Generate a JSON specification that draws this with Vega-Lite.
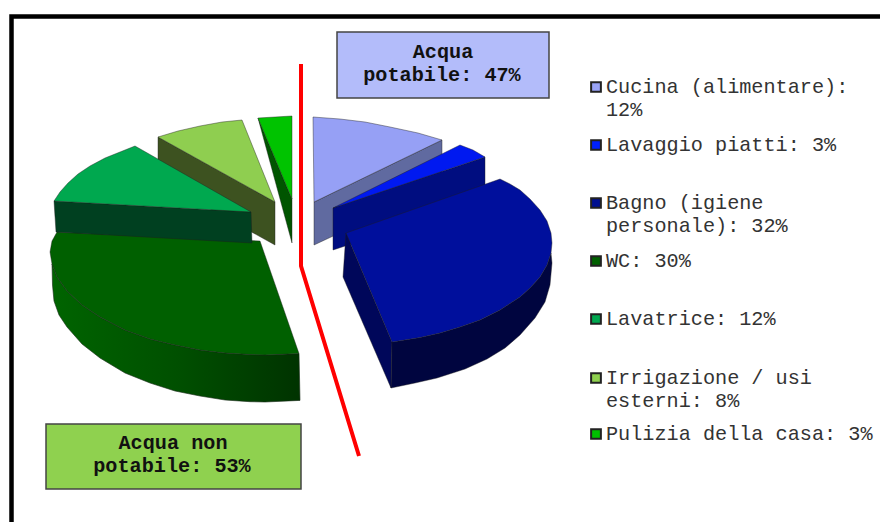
{"$schema":"https://vega.github.io/schema/vega-lite/v6.json","width":880,"height":522,"padding":0,"autosize":{"type":"none"},"background":"white","view":{"stroke":null},
"datasets":{
"frame":[{"s":"frame","i":0,"x":11.5,"y":522},{"s":"frame","i":1,"x":11.5,"y":16.5},{"s":"frame","i":2,"x":880,"y":16.5},{"s":"red","i":0,"x":301,"y":64},{"s":"red","i":1,"x":301,"y":266},{"s":"red","i":2,"x":359,"y":456}],
"wcside":[{"p":"WC side","i":0,"x":299,"y":353.6},{"p":"WC side","i":1,"x":265,"y":355},{"p":"WC side","i":2,"x":250,"y":354.5},{"p":"WC side","i":3,"x":225,"y":353},{"p":"WC side","i":4,"x":200,"y":350},{"p":"WC side","i":5,"x":175,"y":345},{"p":"WC side","i":6,"x":150,"y":339},{"p":"WC side","i":7,"x":125,"y":330},{"p":"WC side","i":8,"x":100,"y":317},{"p":"WC side","i":9,"x":82,"y":305},{"p":"WC side","i":10,"x":67,"y":291},{"p":"WC side","i":11,"x":57,"y":277},{"p":"WC side","i":12,"x":52,"y":264},{"p":"WC side","i":13,"x":52.5,"y":285},{"p":"WC side","i":14,"x":54,"y":301},{"p":"WC side","i":15,"x":59,"y":315},{"p":"WC side","i":16,"x":67,"y":327},{"p":"WC side","i":17,"x":82,"y":344},{"p":"WC side","i":18,"x":100,"y":358},{"p":"WC side","i":19,"x":125,"y":373},{"p":"WC side","i":20,"x":150,"y":383},{"p":"WC side","i":21,"x":175,"y":391},{"p":"WC side","i":22,"x":200,"y":396},{"p":"WC side","i":23,"x":225,"y":400},{"p":"WC side","i":24,"x":250,"y":401.7},{"p":"WC side","i":25,"x":265,"y":402},{"p":"WC side","i":26,"x":300,"y":400.4},{"p":"WC side","i":27,"x":299,"y":353.6}],
"poly":[
{"p":"WC top","i":0,"x":57,"y":232},{"p":"WC top","i":1,"x":260,"y":241},{"p":"WC top","i":2,"x":299,"y":353.6},{"p":"WC top","i":3,"x":265,"y":355},{"p":"WC top","i":4,"x":250,"y":354.5},{"p":"WC top","i":5,"x":225,"y":353},{"p":"WC top","i":6,"x":200,"y":350},{"p":"WC top","i":7,"x":175,"y":345},{"p":"WC top","i":8,"x":150,"y":339},{"p":"WC top","i":9,"x":125,"y":330},{"p":"WC top","i":10,"x":100,"y":317},{"p":"WC top","i":11,"x":82,"y":305},{"p":"WC top","i":12,"x":67,"y":291},{"p":"WC top","i":13,"x":57,"y":277},{"p":"WC top","i":14,"x":52,"y":264},{"p":"WC top","i":15,"x":50,"y":252},{"p":"WC top","i":16,"x":52,"y":241},{"p":"WC top","i":17,"x":57,"y":232},
{"p":"Pulizia side","i":0,"x":258,"y":118},{"p":"Pulizia side","i":1,"x":292,"y":199},{"p":"Pulizia side","i":2,"x":292,"y":243},{"p":"Pulizia side","i":3,"x":258,"y":118},
{"p":"Pulizia top","i":0,"x":258,"y":118},{"p":"Pulizia top","i":1,"x":275,"y":117},{"p":"Pulizia top","i":2,"x":292,"y":116},{"p":"Pulizia top","i":3,"x":292,"y":199},{"p":"Pulizia top","i":4,"x":258,"y":118},
{"p":"Irrigazione side","i":0,"x":158,"y":137},{"p":"Irrigazione side","i":1,"x":275,"y":202},{"p":"Irrigazione side","i":2,"x":275,"y":245},{"p":"Irrigazione side","i":3,"x":158,"y":180},{"p":"Irrigazione side","i":4,"x":158,"y":137},
{"p":"Irrigazione top","i":0,"x":158,"y":137},{"p":"Irrigazione top","i":1,"x":178,"y":131},{"p":"Irrigazione top","i":2,"x":200,"y":126},{"p":"Irrigazione top","i":3,"x":222,"y":122},{"p":"Irrigazione top","i":4,"x":242,"y":120},{"p":"Irrigazione top","i":5,"x":275,"y":202},{"p":"Irrigazione top","i":6,"x":158,"y":137},
{"p":"Lavatrice side","i":0,"x":54,"y":201},{"p":"Lavatrice side","i":1,"x":251,"y":212},{"p":"Lavatrice side","i":2,"x":252,"y":243},{"p":"Lavatrice side","i":3,"x":56,"y":232},{"p":"Lavatrice side","i":4,"x":54,"y":201},
{"p":"Lavatrice top","i":0,"x":54,"y":201},{"p":"Lavatrice top","i":1,"x":60,"y":192},{"p":"Lavatrice top","i":2,"x":68,"y":183},{"p":"Lavatrice top","i":3,"x":78,"y":174},{"p":"Lavatrice top","i":4,"x":90,"y":166},{"p":"Lavatrice top","i":5,"x":105,"y":158},{"p":"Lavatrice top","i":6,"x":120,"y":152},{"p":"Lavatrice top","i":7,"x":135,"y":146},{"p":"Lavatrice top","i":8,"x":251,"y":212},{"p":"Lavatrice top","i":9,"x":54,"y":201},
{"p":"Cucina side","i":0,"x":442,"y":140},{"p":"Cucina side","i":1,"x":314,"y":202},{"p":"Cucina side","i":2,"x":314,"y":245},{"p":"Cucina side","i":3,"x":442,"y":185},{"p":"Cucina side","i":4,"x":442,"y":140},
{"p":"Cucina top","i":0,"x":313,"y":117},{"p":"Cucina top","i":1,"x":340,"y":119},{"p":"Cucina top","i":2,"x":365,"y":122},{"p":"Cucina top","i":3,"x":390,"y":127},{"p":"Cucina top","i":4,"x":418,"y":133},{"p":"Cucina top","i":5,"x":442,"y":140},{"p":"Cucina top","i":6,"x":314,"y":202},{"p":"Cucina top","i":7,"x":313,"y":117},
{"p":"Lavaggio side","i":0,"x":333,"y":208},{"p":"Lavaggio side","i":1,"x":485,"y":157},{"p":"Lavaggio side","i":2,"x":485,"y":200},{"p":"Lavaggio side","i":3,"x":333,"y":250},{"p":"Lavaggio side","i":4,"x":333,"y":208},
{"p":"Lavaggio top","i":0,"x":460,"y":145},{"p":"Lavaggio top","i":1,"x":473,"y":150},{"p":"Lavaggio top","i":2,"x":485,"y":157},{"p":"Lavaggio top","i":3,"x":333,"y":208},{"p":"Lavaggio top","i":4,"x":460,"y":145},
{"p":"Bagno left","i":0,"x":346,"y":233},{"p":"Bagno left","i":1,"x":392,"y":342},{"p":"Bagno left","i":2,"x":391,"y":388},{"p":"Bagno left","i":3,"x":343,"y":277},{"p":"Bagno left","i":4,"x":346,"y":233},
{"p":"Bagno outer","i":0,"x":392,"y":342},{"p":"Bagno outer","i":1,"x":420,"y":337.5},{"p":"Bagno outer","i":2,"x":440,"y":333},{"p":"Bagno outer","i":3,"x":460,"y":327},{"p":"Bagno outer","i":4,"x":480,"y":320},{"p":"Bagno outer","i":5,"x":500,"y":310},{"p":"Bagno outer","i":6,"x":520,"y":297},{"p":"Bagno outer","i":7,"x":530,"y":288},{"p":"Bagno outer","i":8,"x":540,"y":277},{"p":"Bagno outer","i":9,"x":547,"y":265},{"p":"Bagno outer","i":10,"x":551,"y":253},{"p":"Bagno outer","i":11,"x":552,"y":263},{"p":"Bagno outer","i":12,"x":550,"y":285},{"p":"Bagno outer","i":13,"x":545,"y":302},{"p":"Bagno outer","i":14,"x":535,"y":318},{"p":"Bagno outer","i":15,"x":520,"y":335},{"p":"Bagno outer","i":16,"x":505,"y":348},{"p":"Bagno outer","i":17,"x":487,"y":359},{"p":"Bagno outer","i":18,"x":465,"y":369},{"p":"Bagno outer","i":19,"x":437,"y":378},{"p":"Bagno outer","i":20,"x":415,"y":383},{"p":"Bagno outer","i":21,"x":391,"y":388},{"p":"Bagno outer","i":22,"x":392,"y":342},
{"p":"Bagno top","i":0,"x":346,"y":233},{"p":"Bagno top","i":1,"x":500,"y":179},{"p":"Bagno top","i":2,"x":510,"y":184},{"p":"Bagno top","i":3,"x":520,"y":190},{"p":"Bagno top","i":4,"x":530,"y":199},{"p":"Bagno top","i":5,"x":540,"y":210},{"p":"Bagno top","i":6,"x":547,"y":221},{"p":"Bagno top","i":7,"x":551,"y":233},{"p":"Bagno top","i":8,"x":552,"y":243},{"p":"Bagno top","i":9,"x":551,"y":253},{"p":"Bagno top","i":10,"x":547,"y":265},{"p":"Bagno top","i":11,"x":540,"y":277},{"p":"Bagno top","i":12,"x":530,"y":288},{"p":"Bagno top","i":13,"x":520,"y":297},{"p":"Bagno top","i":14,"x":500,"y":310},{"p":"Bagno top","i":15,"x":480,"y":320},{"p":"Bagno top","i":16,"x":460,"y":327},{"p":"Bagno top","i":17,"x":440,"y":333},{"p":"Bagno top","i":18,"x":420,"y":337.5},{"p":"Bagno top","i":19,"x":392,"y":342},{"p":"Bagno top","i":20,"x":346,"y":233}
],
"boxes":[{"k":"Acqua potabile","x":337,"x2":549,"y":32,"y2":98},{"k":"Acqua non potabile","x":46,"x2":301,"y":424,"y2":489}],
"legend":[{"k":"Cucina (alimentare): 12%","v":12,"x":596,"y":87},{"k":"Lavaggio piatti: 3%","v":3,"x":596,"y":145},{"k":"Bagno (igiene personale): 32%","v":32,"x":596,"y":203},{"k":"WC: 30%","v":30,"x":596,"y":261},{"k":"Lavatrice: 12%","v":12,"x":596,"y":319},{"k":"Irrigazione / usi esterni: 8%","v":8,"x":596,"y":378},{"k":"Pulizia della casa: 3%","v":3,"x":596,"y":434}],
"labels":[{"t":"Cucina (alimentare):","x":606,"y":87},{"t":"12%","x":606,"y":110},{"t":"Lavaggio piatti: 3%","x":606,"y":145},{"t":"Bagno (igiene","x":606,"y":203},{"t":"personale): 32%","x":606,"y":226},{"t":"WC: 30%","x":606,"y":261},{"t":"Lavatrice: 12%","x":606,"y":319},{"t":"Irrigazione / usi","x":606,"y":378},{"t":"esterni: 8%","x":606,"y":401},{"t":"Pulizia della casa: 3%","x":606,"y":434}],
"titles":[{"t":"Acqua","x":443,"y":52},{"t":"potabile: 47%","x":442,"y":75},{"t":"Acqua non","x":173,"y":443},{"t":"potabile: 53%","x":172,"y":466}]
},
"encoding":{"x":{"field":"x","type":"quantitative","axis":null,"scale":{"domain":[0,880],"nice":false,"zero":false}},"y":{"field":"y","type":"quantitative","axis":null,"scale":{"domain":[522,0],"nice":false,"zero":false}}},
"layer":[
{"data":{"name":"frame"},"transform":[{"filter":"datum.s==='frame'"}],"mark":{"type":"line","stroke":"#000000","strokeWidth":4.5,"strokeJoin":"miter","strokeCap":"square"},"encoding":{"order":{"field":"i"}}},
{"data":{"name":"wcside"},"mark":{"type":"line","filled":true,"stroke":"#1a2a1a","strokeWidth":0.6,"color":{"gradient":"linear","x1":0,"x2":1,"y1":0,"y2":0,"stops":[{"offset":0,"color":"#006400"},{"offset":0.5,"color":"#005000"},{"offset":1,"color":"#003300"}]}},"encoding":{"order":{"field":"i"},"detail":{"field":"p"}}},
{"data":{"name":"poly"},"mark":{"type":"line","filled":true,"stroke":"#1c1c1c","strokeOpacity":0.7,"strokeWidth":0.6},"encoding":{"order":{"field":"i"},"color":{"field":"p","type":"nominal","legend":null,"sort":null,"scale":{"domain":["WC top","Pulizia side","Pulizia top","Irrigazione side","Irrigazione top","Lavatrice side","Lavatrice top","Cucina side","Cucina top","Lavaggio side","Lavaggio top","Bagno left","Bagno outer","Bagno top"],"range":["#006000","#005500","#00c300","#3d5220","#8fce50","#004020","#00a84f","#606aa0","#96a0f5","#000d80","#0019f0","#00075a","#00053f","#000f9c"]}}}},
{"data":{"name":"frame"},"transform":[{"filter":"datum.s==='red'"}],"mark":{"type":"line","stroke":"#ff0000","strokeWidth":4,"strokeJoin":"miter"},"encoding":{"order":{"field":"i"}}},
{"data":{"name":"boxes"},"mark":{"type":"rect","stroke":"#444444","strokeWidth":1.5},"encoding":{"x2":{"field":"x2"},"y2":{"field":"y2"},"fill":{"field":"k","type":"nominal","legend":null,"sort":null,"scale":{"domain":["Acqua potabile","Acqua non potabile","Cucina (alimentare): 12%","Lavaggio piatti: 3%","Bagno (igiene personale): 32%","WC: 30%","Lavatrice: 12%","Irrigazione / usi esterni: 8%","Pulizia della casa: 3%"],"range":["#b3bcfa","#8fd14f","#9aa4f8","#0020ff","#001090","#006000","#00a84f","#8fd14f","#00c000"]}}}},
{"data":{"name":"legend"},"mark":{"type":"point","shape":"square","filled":true,"size":95,"stroke":"#222222","strokeWidth":2,"opacity":1},"encoding":{"fill":{"field":"k","type":"nominal","legend":null,"sort":null,"scale":{"domain":["Acqua potabile","Acqua non potabile","Cucina (alimentare): 12%","Lavaggio piatti: 3%","Bagno (igiene personale): 32%","WC: 30%","Lavatrice: 12%","Irrigazione / usi esterni: 8%","Pulizia della casa: 3%"],"range":["#b3bcfa","#8fd14f","#9aa4f8","#0020ff","#001090","#006000","#00a84f","#8fd14f","#00c000"]}}}},
{"data":{"name":"labels"},"mark":{"type":"text","font":"Liberation Mono","fontSize":20.2,"align":"left","baseline":"middle","fill":"#333333"},"encoding":{"text":{"field":"t"}}},
{"data":{"name":"titles"},"mark":{"type":"text","font":"Liberation Mono","fontWeight":"bold","fontSize":20.2,"align":"center","baseline":"middle","fill":"#111111"},"encoding":{"text":{"field":"t"}}}
]}
